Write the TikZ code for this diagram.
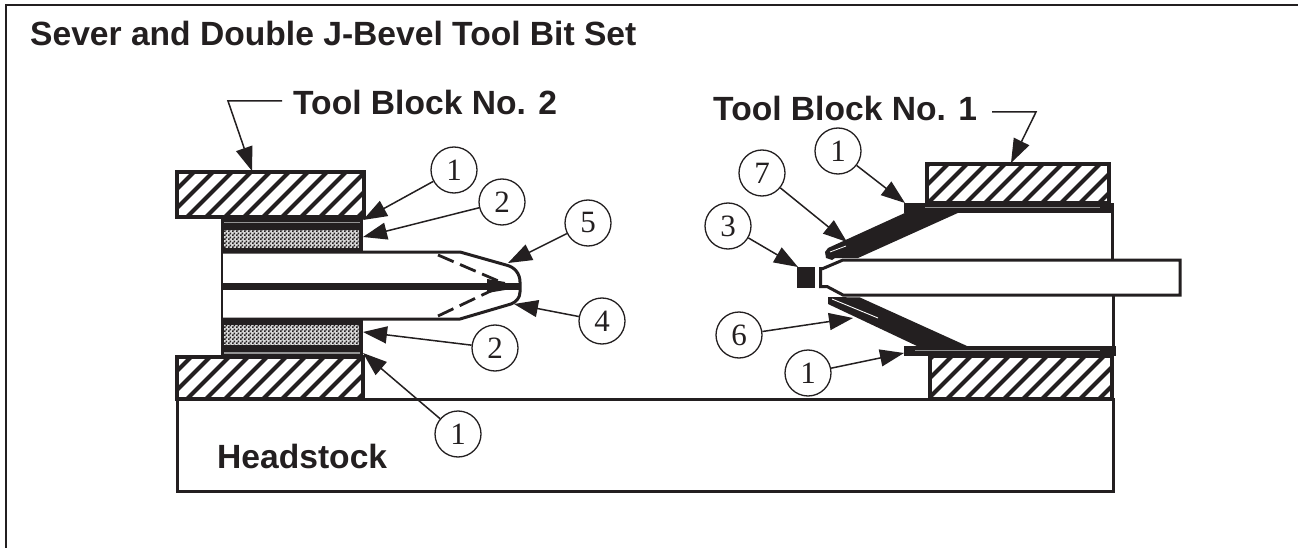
\documentclass[tikz,border=0pt]{standalone}
\usepackage{fontspec}
\setmainfont{Liberation Serif}
\newfontfamily\hv{Liberation Sans}[BoldFont={Liberation Sans Bold}]
\usetikzlibrary{arrows.meta,patterns}
\definecolor{ink}{HTML}{231F20}
\pgfdeclarepatternformonly{stipple}{\pgfqpoint{0pt}{0pt}}{\pgfqpoint{4pt}{4pt}}{\pgfqpoint{4pt}{4pt}}{%
 \pgfpathrectangle{\pgfqpoint{0pt}{0pt}}{\pgfqpoint{2pt}{2pt}}%
 \pgfpathrectangle{\pgfqpoint{2pt}{2pt}}{\pgfqpoint{2pt}{2pt}}%
 \pgfusepath{fill}}
\tikzset{
 x=1pt,y=-1pt,
 lbl/.style={font=\hv\bfseries\fontsize{33.6}{36}\selectfont,text=ink,inner sep=0pt,anchor=base west},
 num/.style={circle,draw=ink,line width=1.3pt,minimum size=46pt,inner sep=0pt,text=ink,font=\fontsize{31}{32}\selectfont},
 lead/.style={draw=ink,line width=1.5pt,-{Triangle[length=24pt,width=17pt]}},
 part/.style={draw=ink,line width=3pt,line join=miter},
}
\newcommand{\hatchbox}[4]{%
 \begin{scope}
 \clip (#1,#2) rectangle (#3,#4);
 \foreach \k in {-60,-41,...,1300}{\draw[ink,line width=4.2pt] (\k,#4) -- ++(50,-50);}
 \end{scope}
 \draw[ink,line width=3.2pt] (#1,#2) rectangle (#3,#4);}
\begin{document}
\begin{tikzpicture}
\useasboundingbox (0,0) rectangle (1298,548);
\fill[white] (0,0) rectangle (1298,548);
% frame
\draw[ink,line width=2.6pt] (6,548) -- (6,5) -- (1298,5);
% labels
\node[lbl] (title) at (30,46) {Sever and Double J-Bevel Tool Bit Set};
\node[lbl] (tb2) at (293,115) {Tool Block No. 2};
\node[lbl] (tb1) at (713,120.5) {Tool Block No. 1};
\node[lbl] (hs) at (217,468) {Headstock};
% headstock
\draw[part] (177,399.5) -- (1113,399.5) -- (1113,491) -- (177,491) -- cycle;
% tool block 2
\hatchbox{177}{172}{364}{217}
\hatchbox{177}{357}{363}{399}
\fill[ink] (222,217) rectangle (363,252);
\fill[ink] (222,319) rectangle (363,357);
\fill[gray!85] (224,222) rectangle (360,223.5);
\fill[gray!85] (224,352) rectangle (360,353.5);
\fill[gray!30] (224,230) rectangle (358.5,248);
\fill[gray!30] (224,325) rectangle (358.5,345);
\begin{scope}
\clip (224,230) rectangle (358.5,248);
\fill[pattern=stipple,pattern color=ink] (222,228) rectangle (360,250);
\end{scope}
\begin{scope}
\clip (224,325) rectangle (358.5,345);
\fill[pattern=stipple,pattern color=ink] (222,323) rectangle (360,347);
\end{scope}
\draw[ink,line width=2.6pt] (222,217) -- (222,357);
% bit left
\draw[part,line join=round] (222,252) -- (460,252) -- (506,265) .. controls (515,267) and (520,274) .. (520,282) -- (520,292) .. controls (520,298) and (516,302) .. (511,304) -- (460,319) -- (222,319);
\fill[ink] (222,282.5) rectangle (520,289.5);
\fill[ink] (487,279) -- (505,282) -- (505,290) -- (487,293) -- cycle;
\draw[ink,line width=2.8pt,dash pattern=on 17pt off 7pt] (438,255) -- (503,283);
\draw[ink,line width=2.8pt,dash pattern=on 17pt off 7pt] (438,316) -- (497,288);
% tool block 1
\hatchbox{927}{164}{1109}{203}
\hatchbox{930}{356}{1112}{399}
\fill[ink] (904,203) rectangle (1114,213);
\fill[ink] (904,345.5) rectangle (1116,356);
\fill[gray!85] (925,207.5) rectangle (1100,208.5);
\fill[gray!85] (915,350) rectangle (1100,351);
\fill[ink] (907,212) -- (960,212) -- (858,258) -- (835,258) -- (832,260) -- (826,258) -- (825,252) -- (828,248) -- cycle;
\fill[ink] (917,346) -- (967,346) -- (860,297.5) -- (833,297) -- (828,297) -- (828,304) -- cycle;
\draw[white,line width=.8pt] (830,252) -- (846,246);
\draw[white,line width=.9pt] (832,299) -- (878,318);
\draw[part] (1112,213) -- (1112,259);
\draw[part] (1113,295) -- (1113,346);
% bit right
\draw[part] (843,260) -- (1180,260) -- (1180,295) -- (843,295) -- (827,286.5) -- (820.5,286.5) -- (820.5,268.5) -- (823,268.5) -- cycle;
\fill[ink] (797,267) rectangle (815,288);
% numbered balloons
\node[num] (a1) at (454,170) {1};
\node[num] (a2) at (502,202) {2};
\node[num] (a5) at (588,223) {5};
\node[num] (a4) at (602,321) {4};
\node[num] (b2) at (495,348) {2};
\node[num] (b1) at (458,434) {1};
\node[num] (c1) at (838,151) {1};
\node[num] (c7) at (762,173) {7};
\node[num] (c3) at (728,226) {3};
\node[num] (c6) at (739,335) {6};
\node[num] (d1) at (808,373) {1};
% arrow targets
\coordinate (ta1) at (363,220);
\coordinate (ta2) at (363,237);
\coordinate (ta5) at (508,263);
\coordinate (ta4) at (514,304);
\coordinate (tb2t) at (363,332);
\coordinate (tb1t) at (363,353);
\coordinate (tc1) at (905,203);
\coordinate (tc7) at (847,242);
\coordinate (tc3) at (798,267);
\coordinate (tc6) at (853,318);
\coordinate (td1) at (904,353);
\draw[lead] (a1) -- (ta1);
\draw[lead] (a2) -- (ta2);
\draw[lead] (a5) -- (ta5);
\draw[lead] (a4) -- (ta4);
\draw[lead] (b2) -- (tb2t);
\draw[lead] (b1) -- (tb1t);
\draw[lead] (c1) -- (tc1);
\draw[lead] (c7) -- (tc7);
\draw[lead] (c3) -- (tc3);
\draw[lead] (c6) -- (tc6);
\draw[lead] (d1) -- (td1);
% block leaders
\coordinate (k2a) at (282,101);
\coordinate (k2b) at (228,101);
\coordinate (k2c) at (252,171);
\coordinate (k1a) at (992,112);
\coordinate (k1b) at (1036,112);
\coordinate (k1c) at (1011,163);
\draw[lead] (k2a) -- (k2b) -- (k2c);
\draw[lead] (k1a) -- (k1b) -- (k1c);
\end{tikzpicture}
\end{document}
